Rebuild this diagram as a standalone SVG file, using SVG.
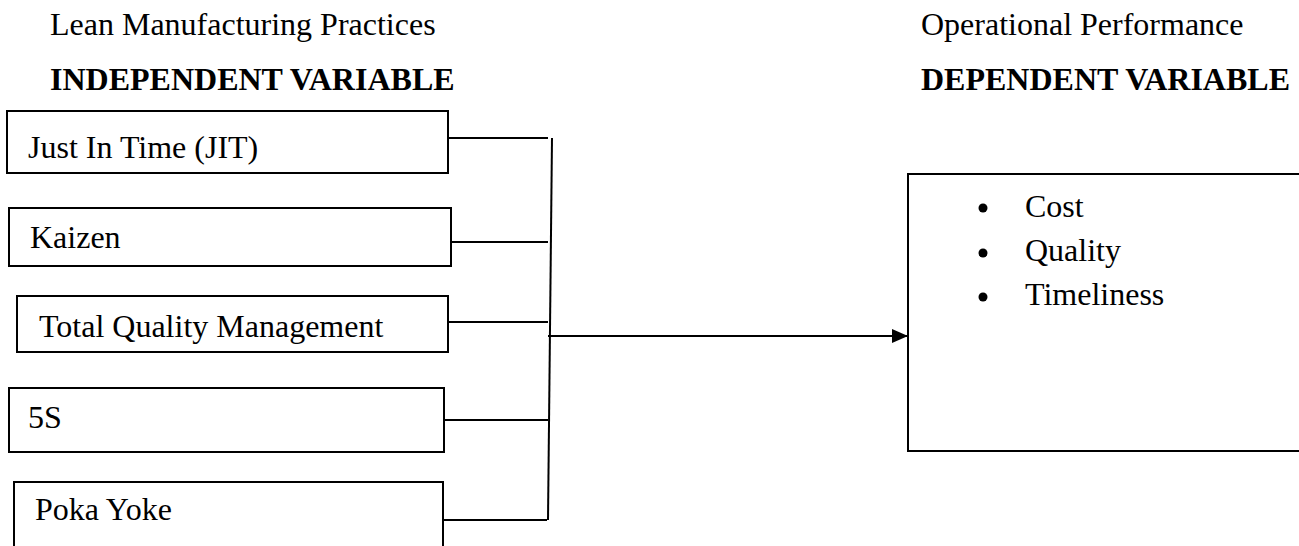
<svg xmlns="http://www.w3.org/2000/svg" width="1299" height="546" viewBox="0 0 1299 546">
<style>
.t{font-family:"Liberation Serif","Times New Roman",serif;font-size:32px;fill:#000}
.b{font-weight:bold}
.box{fill:#fff;stroke:#000;stroke-width:2}
.ln{stroke:#000;stroke-width:2;fill:none}
</style>
<defs>
<marker id="ah" markerUnits="userSpaceOnUse" markerWidth="16" markerHeight="14" refX="16" refY="7" orient="auto">
<path d="M0,0 L16,7 L0,14 Z" fill="#000"/>
</marker>
</defs>
<rect width="1299" height="546" fill="#fff"/>
<g id="headings">
<text class="t" x="50" y="35">Lean Manufacturing Practices</text>
<text class="t b" x="50" y="90">INDEPENDENT VARIABLE</text>
<text class="t" x="921" y="35">Operational Performance</text>
<text class="t b" x="921" y="90">DEPENDENT VARIABLE</text>
</g>
<g id="jit">
<rect class="box" x="7" y="111" width="441" height="62"/>
<text class="t" x="28" y="158">Just In Time (JIT)</text>
</g>
<g id="kaizen">
<rect class="box" x="9" y="208" width="442" height="58"/>
<text class="t" x="30" y="248">Kaizen</text>
</g>
<g id="tqm">
<rect class="box" x="17" y="296" width="431" height="56"/>
<text class="t" x="39" y="337">Total Quality Management</text>
</g>
<g id="fives">
<rect class="box" x="9" y="388" width="435" height="64"/>
<text class="t" x="28" y="428">5S</text>
</g>
<g id="pokayoke">
<rect class="box" x="14" y="482" width="429" height="80"/>
<text class="t" x="35" y="520">Poka Yoke</text>
</g>
<g id="performance">
<rect class="box" x="908" y="174" width="420" height="277"/>
<circle cx="983" cy="208" r="4.5" fill="#000"/>
<circle cx="983" cy="253" r="4.5" fill="#000"/>
<circle cx="983" cy="297" r="4.5" fill="#000"/>
<text class="t" x="1025" y="217">Cost</text>
<text class="t" x="1025" y="261">Quality</text>
<text class="t" x="1025" y="305">Timeliness</text>
</g>
<g id="connectors">
<line class="ln" x1="448" y1="138" x2="548" y2="138"/>
<line class="ln" x1="451" y1="242" x2="548" y2="242"/>
<line class="ln" x1="448" y1="322" x2="548" y2="322"/>
<line class="ln" x1="444" y1="420" x2="548" y2="420"/>
<line class="ln" x1="443" y1="520" x2="547" y2="520"/>
<line class="ln" x1="552" y1="138" x2="548" y2="520"/>
<line class="ln" x1="548" y1="336" x2="908" y2="336" marker-end="url(#ah)"/>
</g>
</svg>
